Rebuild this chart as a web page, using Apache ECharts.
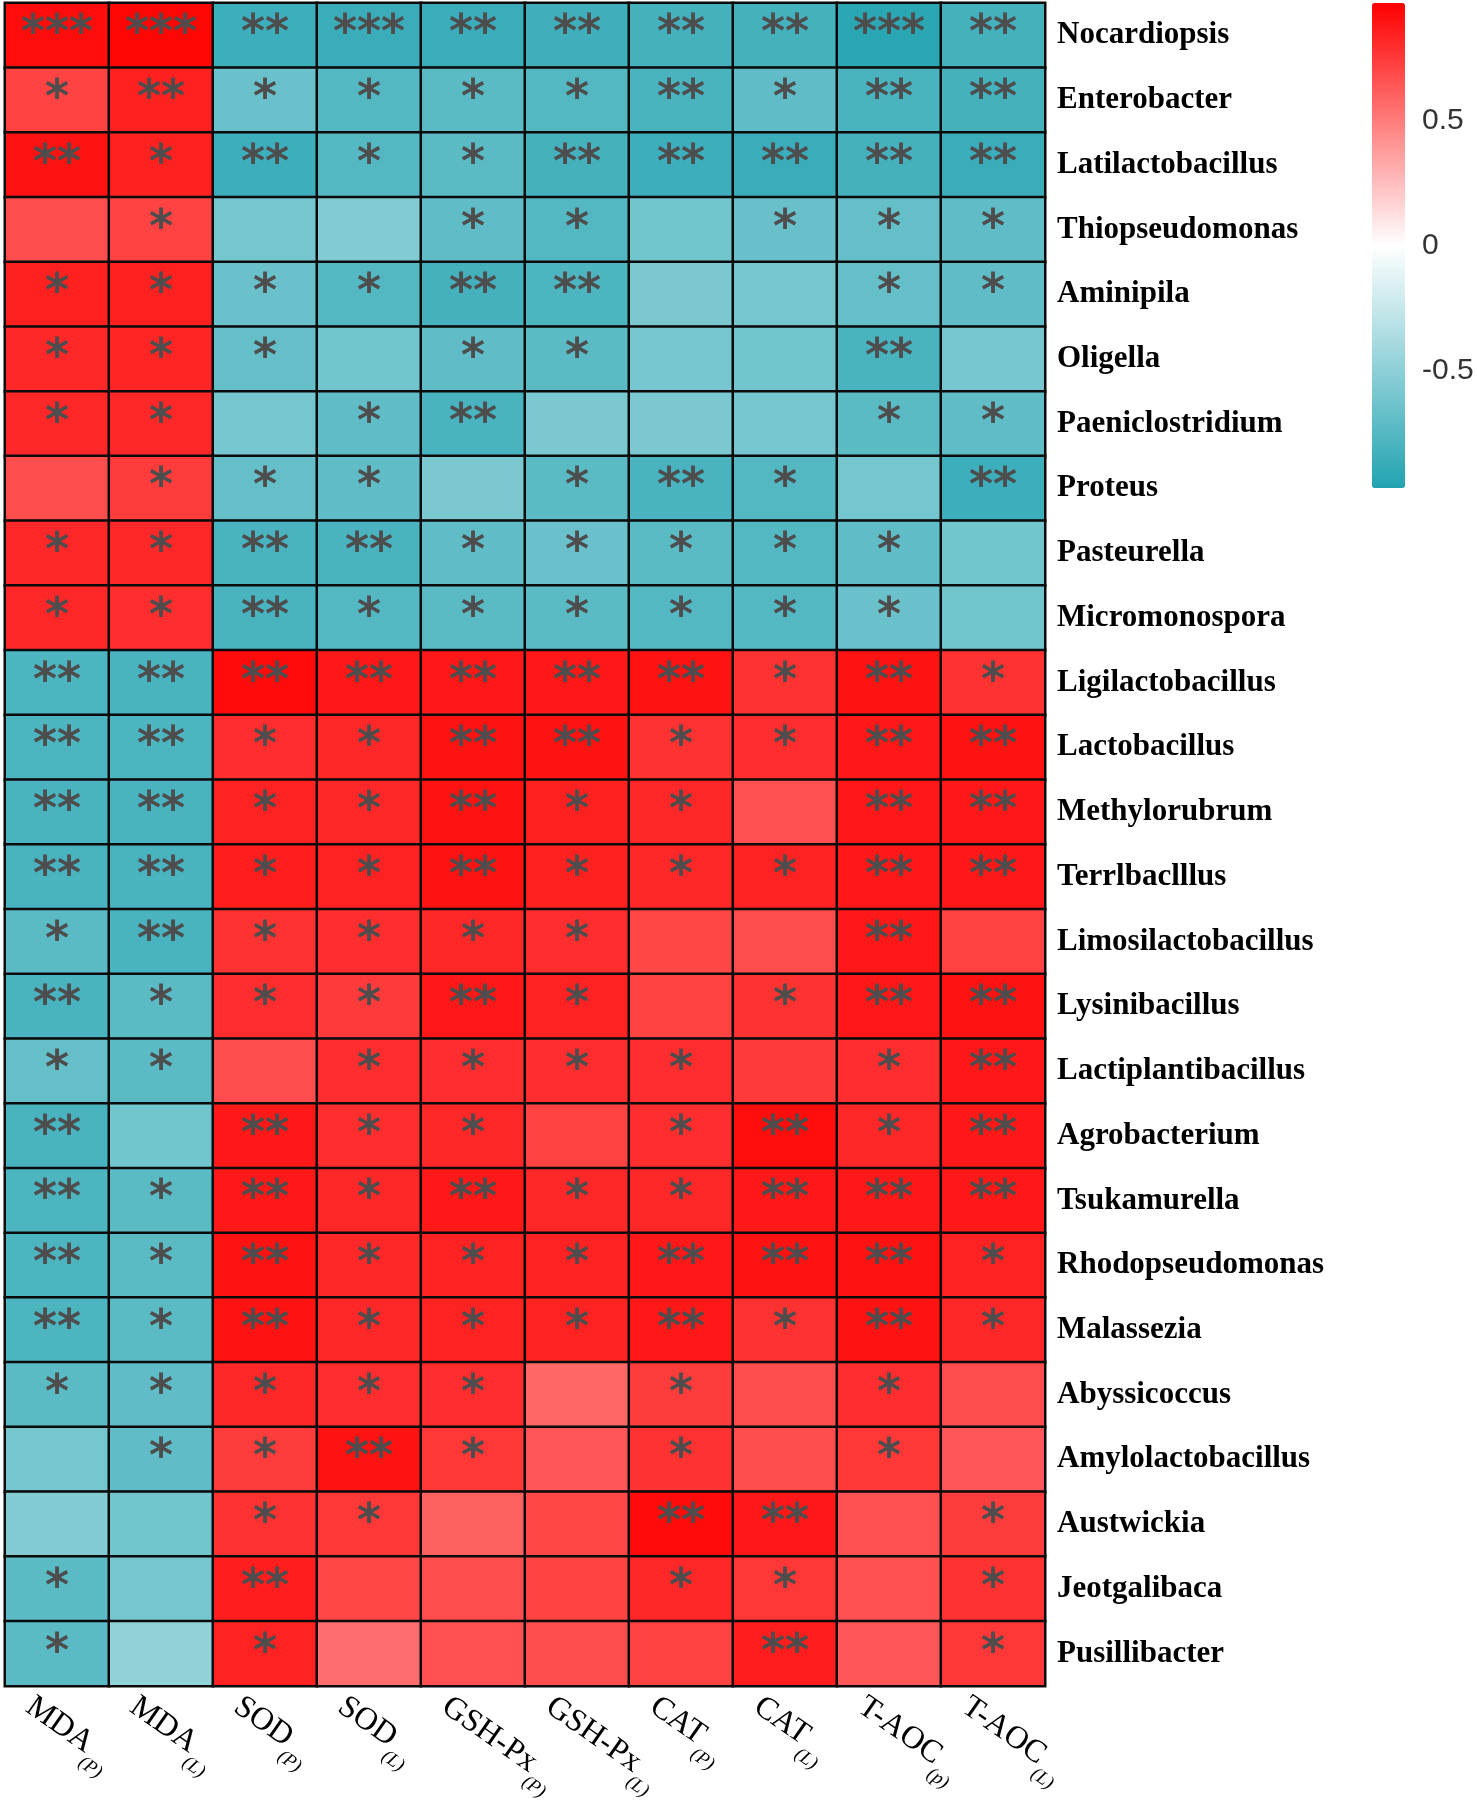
<!DOCTYPE html>
<html>
<head>
<meta charset="utf-8">
<script src="https://cdn.jsdelivr.net/npm/echarts@6.0.0/dist/echarts.min.js"></script>
<style>
  html, body { margin: 0; padding: 0; background: #fff; }
  #chartmain { width: 1477px; height: 1800px; }
</style>
</head>
<body>
<div id="chartmain"></div>
<script>
// genera (rows, top to bottom)
var genera = ['Nocardiopsis', 'Enterobacter', 'Latilactobacillus', 'Thiopseudomonas', 'Aminipila',
  'Oligella', 'Paeniclostridium', 'Proteus', 'Pasteurella', 'Micromonospora',
  'Ligilactobacillus', 'Lactobacillus', 'Methylorubrum', 'Terrlbaclllus', 'Limosilactobacillus',
  'Lysinibacillus', 'Lactiplantibacillus', 'Agrobacterium', 'Tsukamurella', 'Rhodopseudomonas',
  'Malassezia', 'Abyssicoccus', 'Amylolactobacillus', 'Austwickia', 'Jeotgalibaca', 'Pusillibacter'];

// indices (columns) and their subscripts
var indexNames = ['MDA', 'MDA', 'SOD', 'SOD', 'GSH-Px', 'GSH-Px', 'CAT', 'CAT', 'T-AOC', 'T-AOC'];
var indexTissue = ['(P)', '(L)', '(P)', '(L)', '(P)', '(L)', '(P)', '(L)', '(p)', '(L)'];

// correlation values, one array per genus
var corr = [
  [0.92, 0.95, -0.85, -0.86, -0.86, -0.84, -0.82, -0.82, -0.93, -0.82],
  [0.72, 0.85, -0.65, -0.75, -0.72, -0.75, -0.80, -0.70, -0.80, -0.82],
  [0.90, 0.85, -0.85, -0.75, -0.72, -0.82, -0.85, -0.86, -0.82, -0.86],
  [0.68, 0.72, -0.60, -0.55, -0.70, -0.75, -0.62, -0.66, -0.68, -0.70],
  [0.85, 0.85, -0.65, -0.75, -0.82, -0.78, -0.58, -0.60, -0.68, -0.70],
  [0.82, 0.83, -0.68, -0.62, -0.70, -0.72, -0.60, -0.62, -0.80, -0.60],
  [0.82, 0.82, -0.60, -0.70, -0.80, -0.58, -0.58, -0.60, -0.72, -0.70],
  [0.68, 0.74, -0.68, -0.70, -0.58, -0.72, -0.80, -0.75, -0.60, -0.85],
  [0.82, 0.82, -0.80, -0.80, -0.70, -0.65, -0.72, -0.75, -0.70, -0.62],
  [0.82, 0.80, -0.80, -0.75, -0.72, -0.72, -0.75, -0.75, -0.65, -0.62],
  [-0.78, -0.80, 0.93, 0.88, 0.88, 0.88, 0.90, 0.78, 0.90, 0.78],
  [-0.78, -0.78, 0.80, 0.82, 0.90, 0.90, 0.78, 0.80, 0.88, 0.90],
  [-0.80, -0.80, 0.84, 0.82, 0.90, 0.85, 0.82, 0.66, 0.88, 0.88],
  [-0.80, -0.80, 0.86, 0.84, 0.90, 0.85, 0.82, 0.84, 0.88, 0.88],
  [-0.72, -0.80, 0.78, 0.80, 0.82, 0.80, 0.70, 0.68, 0.88, 0.72],
  [-0.80, -0.72, 0.80, 0.75, 0.88, 0.84, 0.72, 0.78, 0.88, 0.90],
  [-0.68, -0.72, 0.68, 0.80, 0.80, 0.80, 0.80, 0.75, 0.80, 0.88],
  [-0.80, -0.62, 0.88, 0.80, 0.82, 0.72, 0.80, 0.92, 0.82, 0.88],
  [-0.78, -0.72, 0.88, 0.82, 0.88, 0.82, 0.82, 0.88, 0.88, 0.88],
  [-0.78, -0.72, 0.90, 0.82, 0.84, 0.84, 0.88, 0.90, 0.90, 0.84],
  [-0.78, -0.72, 0.90, 0.82, 0.84, 0.84, 0.88, 0.78, 0.90, 0.82],
  [-0.72, -0.70, 0.82, 0.80, 0.80, 0.58, 0.74, 0.68, 0.80, 0.68],
  [-0.60, -0.70, 0.74, 0.90, 0.76, 0.64, 0.78, 0.68, 0.76, 0.64],
  [-0.55, -0.62, 0.78, 0.76, 0.60, 0.70, 0.93, 0.88, 0.66, 0.74],
  [-0.72, -0.60, 0.86, 0.70, 0.68, 0.72, 0.82, 0.76, 0.66, 0.78],
  [-0.72, -0.48, 0.84, 0.55, 0.66, 0.68, 0.72, 0.86, 0.64, 0.76]
];

// significance marks, same layout
var stars = [
  ['***', '***', '**', '***', '**', '**', '**', '**', '***', '**'],
  ['*', '**', '*', '*', '*', '*', '**', '*', '**', '**'],
  ['**', '*', '**', '*', '*', '**', '**', '**', '**', '**'],
  ['', '*', '', '', '*', '*', '', '*', '*', '*'],
  ['*', '*', '*', '*', '**', '**', '', '', '*', '*'],
  ['*', '*', '*', '', '*', '*', '', '', '**', ''],
  ['*', '*', '', '*', '**', '', '', '', '*', '*'],
  ['', '*', '*', '*', '', '*', '**', '*', '', '**'],
  ['*', '*', '**', '**', '*', '*', '*', '*', '*', ''],
  ['*', '*', '**', '*', '*', '*', '*', '*', '*', ''],
  ['**', '**', '**', '**', '**', '**', '**', '*', '**', '*'],
  ['**', '**', '*', '*', '**', '**', '*', '*', '**', '**'],
  ['**', '**', '*', '*', '**', '*', '*', '', '**', '**'],
  ['**', '**', '*', '*', '**', '*', '*', '*', '**', '**'],
  ['*', '**', '*', '*', '*', '*', '', '', '**', ''],
  ['**', '*', '*', '*', '**', '*', '', '*', '**', '**'],
  ['*', '*', '', '*', '*', '*', '*', '', '*', '**'],
  ['**', '', '**', '*', '*', '', '*', '**', '*', '**'],
  ['**', '*', '**', '*', '**', '*', '*', '**', '**', '**'],
  ['**', '*', '**', '*', '*', '*', '**', '**', '**', '*'],
  ['**', '*', '**', '*', '*', '*', '**', '*', '**', '*'],
  ['*', '*', '*', '*', '*', '', '*', '', '*', ''],
  ['', '*', '*', '**', '*', '', '*', '', '*', ''],
  ['', '', '*', '*', '', '', '**', '**', '', '*'],
  ['*', '', '**', '', '', '', '*', '*', '', '*'],
  ['*', '', '*', '', '', '', '', '**', '', '*']
];

// colour bar ticks
var barTicks = [-0.5, 0, 0.5];

// the rotated column labels start a little left of each column centre
var labelShift = 0.3;
var labelPos = indexNames.map(function (n, j) { return j - labelShift; });

var cells = [];
for (var i = 0; i < genera.length; i++) {
  for (var j = 0; j < indexNames.length; j++) {
    cells.push([j, i, corr[i][j]]);
  }
}

var option = {
  backgroundColor: '#ffffff',
  animation: false,
  grid: [
    { left: 5, top: 3, width: 1040, height: 1683, outerBoundsMode: 'none', containLabel: false },
    { left: 1372, top: 3, width: 33, height: 485, outerBoundsMode: 'none', containLabel: false }
  ],
  xAxis: [{
    type: 'category',
    data: indexNames,
    gridIndex: 0,
    axisLine: { show: false },
    axisTick: { show: false },
    axisLabel: { show: false }
  }, {
    // label-only axis for the column names
    type: 'value',
    gridIndex: 0,
    position: 'bottom',
    min: -0.5,
    max: indexNames.length - 0.5,
    axisLine: { show: false },
    axisTick: { show: false },
    splitLine: { show: false },
    axisLabel: {
      customValues: labelPos,
      rotate: -35,
      margin: 22,
      formatter: function (v) {
        var k = Math.round(v + labelShift);
        return '{main|' + indexNames[k] + '}{sub|' + indexTissue[k] + '}';
      },
      rich: {
        main: { fontFamily: 'Liberation Serif', fontSize: 32, color: '#000', lineHeight: 32, verticalAlign: 'top' },
        sub: { fontFamily: 'Liberation Serif', fontStyle: 'italic', fontSize: 19, color: '#000', lineHeight: 43, verticalAlign: 'bottom' }
      }
    }
  }, {
    type: 'value',
    gridIndex: 1,
    show: false,
    min: 0,
    max: 1
  }],
  yAxis: [{
    type: 'category',
    data: genera,
    gridIndex: 0,
    inverse: true,
    position: 'right',
    axisLine: { show: false },
    axisTick: { show: false },
    axisLabel: {
      margin: 12,
      interval: 0,
      fontFamily: 'Liberation Serif',
      fontWeight: 'bold',
      fontSize: 31,
      color: '#000'
    }
  }, {
    type: 'value',
    gridIndex: 1,
    min: -0.97,
    max: 0.97,
    position: 'right',
    axisLine: { show: false },
    axisTick: { show: false },
    splitLine: { show: false },
    axisLabel: {
      customValues: barTicks,
      margin: 17,
      fontFamily: 'Liberation Sans',
      fontSize: 30,
      color: '#333',
      formatter: function (v) { return String(v); }
    }
  }],
  visualMap: {
    type: 'continuous',
    min: -0.97,
    max: 0.97,
    calculable: false,
    seriesIndex: 0,
    left: 1372,
    top: 3,
    padding: 0,
    itemWidth: 33,
    itemHeight: 485,
    text: null,
    showLabel: false,
    inRange: { color: ['#22a3b1', '#ffffff', '#ff0000'] }
  },
  series: [{
    type: 'heatmap',
    xAxisIndex: 0,
    yAxisIndex: 0,
    data: cells,
    label: {
      show: true,
      fontFamily: 'DejaVu Sans',
      fontWeight: 'bold',
      fontSize: 46,
      color: '#4d4d4d',
      formatter: function (p) { return stars[p.data[1]][p.data[0]]; }
    },
    itemStyle: { borderColor: '#0b0b0b', borderWidth: 2.5 },
    emphasis: { disabled: true }
  }]
};

var myChart = echarts.init(document.getElementById('chartmain'));
myChart.setOption(option);
</script>
</body>
</html>
